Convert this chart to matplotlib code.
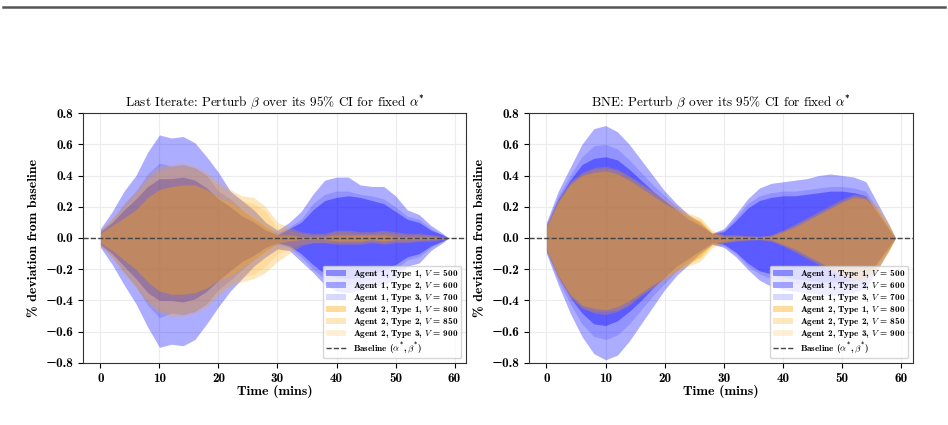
import matplotlib
matplotlib.use("Agg")
import matplotlib.pyplot as plt
from matplotlib.lines import Line2D

plt.rcParams['font.family'] = ['cmb10', 'DejaVu Serif']
plt.rcParams['mathtext.fontset'] = 'custom'
plt.rcParams['mathtext.rm'] = 'cmb10'
plt.rcParams['mathtext.bf'] = 'cmb10'
plt.rcParams['mathtext.it'] = 'cmmi10'
plt.rcParams['axes.formatter.use_mathtext'] = False
plt.rcParams['axes.unicode_minus'] = True

# time grid (mins)
t = [0, 2, 4, 6, 8, 10, 12, 14, 16, 18, 20, 22, 24, 26, 28, 30,
     32, 34, 36, 38, 40, 42, 44, 46, 48, 50, 52, 54, 56, 58, 59]

labels = [r"Agent 1, Type 1, $V$ = 500", r"Agent 1, Type 2, $V$ = 600",
          r"Agent 1, Type 3, $V$ = 700", r"Agent 2, Type 1, $V$ = 800",
          r"Agent 2, Type 2, $V$ = 850", r"Agent 2, Type 3, $V$ = 900"]

# ---- Last iterate: upper / lower bounds of % deviation ----
li_a1t1_hi = [0.04, 0.10, 0.18, 0.25, 0.33, 0.38, 0.38, 0.39, 0.37, 0.32, 0.25, 0.20, 0.14, 0.10, 0.05, 0.02,
              0.06, 0.10, 0.18, 0.24, 0.26, 0.27, 0.26, 0.24, 0.22, 0.17, 0.12, 0.10, 0.05, 0.02, 0.0]
li_a1t1_lo = [-0.04, -0.10, -0.18, -0.26, -0.35, -0.40, -0.40, -0.41, -0.39, -0.34, -0.27, -0.21, -0.15, -0.11, -0.06, -0.03,
              -0.05, -0.10, -0.17, -0.23, -0.25, -0.26, -0.25, -0.23, -0.21, -0.17, -0.12, -0.10, -0.05, -0.02, 0.0]
li_a1t2_hi = [0.06, 0.17, 0.30, 0.40, 0.55, 0.66, 0.64, 0.65, 0.61, 0.52, 0.42, 0.30, 0.24, 0.18, 0.10, 0.05,
              0.10, 0.17, 0.28, 0.37, 0.39, 0.39, 0.34, 0.33, 0.33, 0.27, 0.18, 0.15, 0.08, 0.03, 0.0]
li_a1t2_lo = [-0.06, -0.17, -0.30, -0.42, -0.57, -0.70, -0.68, -0.69, -0.65, -0.55, -0.44, -0.34, -0.26, -0.18, -0.12, -0.07,
              -0.08, -0.15, -0.22, -0.30, -0.34, -0.35, -0.33, -0.31, -0.30, -0.26, -0.18, -0.16, -0.08, -0.03, 0.0]
li_a1t3_hi = [0.05, 0.12, 0.22, 0.30, 0.41, 0.48, 0.46, 0.47, 0.45, 0.40, 0.30, 0.25, 0.18, 0.12, 0.07, 0.03,
              0.07, 0.12, 0.22, 0.28, 0.30, 0.30, 0.28, 0.27, 0.25, 0.20, 0.14, 0.12, 0.06, 0.02, 0.0]
li_a1t3_lo = [-0.05, -0.12, -0.22, -0.31, -0.43, -0.51, -0.48, -0.49, -0.47, -0.42, -0.33, -0.27, -0.20, -0.14, -0.08, -0.04,
              -0.06, -0.12, -0.20, -0.26, -0.29, -0.30, -0.28, -0.27, -0.25, -0.20, -0.14, -0.12, -0.06, -0.02, 0.0]
li_a2t1_hi = [0.03, 0.08, 0.13, 0.18, 0.26, 0.31, 0.33, 0.34, 0.34, 0.31, 0.26, 0.23, 0.18, 0.13, 0.08, 0.02,
              0.02, 0.01, 0.01, 0.01, 0.02, 0.02, 0.02, 0.02, 0.02, 0.01, 0.01, 0.01, 0.01, 0.0, 0.0]
li_a2t1_lo = [-0.03, -0.08, -0.14, -0.20, -0.28, -0.34, -0.36, -0.36, -0.35, -0.32, -0.27, -0.24, -0.19, -0.14, -0.09, -0.03,
              -0.02, -0.01, -0.01, -0.01, -0.02, -0.02, -0.02, -0.01, -0.02, -0.01, -0.01, -0.01, -0.01, 0.0, 0.0]
li_a2t2_hi = [0.05, 0.13, 0.22, 0.30, 0.40, 0.46, 0.47, 0.48, 0.46, 0.42, 0.36, 0.31, 0.27, 0.26, 0.20, 0.10,
              0.07, 0.04, 0.03, 0.03, 0.05, 0.05, 0.04, 0.04, 0.05, 0.04, 0.03, 0.03, 0.02, 0.01, 0.0]
li_a2t2_lo = [-0.05, -0.13, -0.23, -0.32, -0.42, -0.48, -0.50, -0.50, -0.48, -0.44, -0.37, -0.31, -0.28, -0.26, -0.22, -0.15,
              -0.10, -0.05, -0.03, -0.03, -0.04, -0.04, -0.04, -0.03, -0.04, -0.03, -0.03, -0.02, -0.02, -0.01, 0.0]
li_a2t3_hi = [0.05, 0.12, 0.20, 0.28, 0.37, 0.43, 0.45, 0.46, 0.44, 0.40, 0.33, 0.28, 0.24, 0.22, 0.17, 0.06,
              0.05, 0.03, 0.02, 0.02, 0.04, 0.04, 0.03, 0.03, 0.04, 0.03, 0.02, 0.02, 0.02, 0.01, 0.0]
li_a2t3_lo = [-0.05, -0.12, -0.21, -0.30, -0.40, -0.46, -0.48, -0.48, -0.46, -0.42, -0.34, -0.29, -0.25, -0.23, -0.18, -0.10,
              -0.07, -0.04, -0.03, -0.03, -0.03, -0.03, -0.03, -0.02, -0.03, -0.02, -0.02, -0.02, -0.01, -0.01, 0.0]

# ---- BNE: upper / lower bounds of % deviation ----
bne_a1t1_hi = [0.08, 0.25, 0.37, 0.47, 0.51, 0.52, 0.50, 0.44, 0.37, 0.30, 0.24, 0.18, 0.12, 0.08, 0.03, 0.04,
               0.11, 0.19, 0.24, 0.26, 0.27, 0.27, 0.28, 0.29, 0.30, 0.30, 0.29, 0.27, 0.16, 0.05, 0.0]
bne_a1t1_lo = [-0.08, -0.25, -0.38, -0.48, -0.55, -0.56, -0.53, -0.47, -0.40, -0.32, -0.25, -0.18, -0.13, -0.08, -0.03, -0.04,
               -0.09, -0.16, -0.21, -0.23, -0.25, -0.26, -0.27, -0.28, -0.28, -0.28, -0.27, -0.25, -0.15, -0.05, 0.0]
bne_a1t2_hi = [0.10, 0.30, 0.45, 0.60, 0.70, 0.72, 0.68, 0.60, 0.50, 0.40, 0.30, 0.22, 0.15, 0.10, 0.03, 0.06,
               0.15, 0.25, 0.32, 0.35, 0.36, 0.37, 0.38, 0.40, 0.41, 0.40, 0.39, 0.36, 0.22, 0.08, 0.0]
bne_a1t2_lo = [-0.10, -0.30, -0.48, -0.63, -0.74, -0.78, -0.75, -0.66, -0.55, -0.44, -0.33, -0.24, -0.17, -0.10, -0.04, -0.06,
               -0.12, -0.20, -0.27, -0.31, -0.33, -0.34, -0.35, -0.36, -0.37, -0.36, -0.35, -0.32, -0.20, -0.07, 0.0]
bne_a1t3_hi = [0.09, 0.27, 0.40, 0.52, 0.59, 0.60, 0.57, 0.50, 0.42, 0.34, 0.27, 0.20, 0.14, 0.09, 0.03, 0.05,
               0.13, 0.22, 0.27, 0.29, 0.30, 0.30, 0.31, 0.32, 0.33, 0.33, 0.32, 0.30, 0.18, 0.06, 0.0]
bne_a1t3_lo = [-0.09, -0.27, -0.42, -0.55, -0.63, -0.65, -0.62, -0.55, -0.46, -0.37, -0.29, -0.21, -0.15, -0.09, -0.04, -0.05,
               -0.10, -0.18, -0.23, -0.26, -0.28, -0.29, -0.30, -0.31, -0.31, -0.30, -0.30, -0.27, -0.17, -0.06, 0.0]
bne_a2t1_hi = [0.07, 0.23, 0.34, 0.40, 0.42, 0.43, 0.41, 0.37, 0.32, 0.27, 0.22, 0.18, 0.14, 0.11, 0.03, 0.01,
               0.01, 0.01, 0.01, 0.01, 0.04, 0.07, 0.11, 0.15, 0.19, 0.23, 0.26, 0.25, 0.18, 0.07, 0.0]
bne_a2t1_lo = [-0.07, -0.24, -0.36, -0.43, -0.45, -0.46, -0.44, -0.40, -0.35, -0.30, -0.25, -0.20, -0.16, -0.12, -0.04, -0.02,
               -0.01, -0.01, -0.01, -0.01, -0.04, -0.07, -0.11, -0.15, -0.19, -0.23, -0.26, -0.25, -0.18, -0.07, 0.0]
bne_a2t2_hi = [0.08, 0.25, 0.36, 0.42, 0.45, 0.46, 0.44, 0.40, 0.35, 0.30, 0.25, 0.20, 0.16, 0.13, 0.05, 0.02,
               0.02, 0.015, 0.01, 0.02, 0.05, 0.09, 0.13, 0.17, 0.21, 0.25, 0.28, 0.27, 0.20, 0.08, 0.0]
bne_a2t2_lo = [-0.08, -0.26, -0.38, -0.45, -0.48, -0.49, -0.47, -0.43, -0.37, -0.32, -0.27, -0.22, -0.18, -0.15, -0.06, -0.03,
               -0.02, -0.015, -0.01, -0.02, -0.05, -0.09, -0.13, -0.17, -0.21, -0.25, -0.28, -0.27, -0.20, -0.08, 0.0]
bne_a2t3_hi = [0.08, 0.24, 0.35, 0.41, 0.44, 0.45, 0.43, 0.39, 0.34, 0.29, 0.24, 0.19, 0.15, 0.12, 0.04, 0.02,
               0.02, 0.01, 0.01, 0.02, 0.05, 0.08, 0.12, 0.16, 0.20, 0.24, 0.27, 0.26, 0.19, 0.07, 0.0]
bne_a2t3_lo = [-0.08, -0.25, -0.37, -0.44, -0.47, -0.47, -0.46, -0.42, -0.36, -0.31, -0.26, -0.21, -0.17, -0.13, -0.05, -0.03,
               -0.02, -0.01, -0.01, -0.02, -0.05, -0.08, -0.12, -0.16, -0.20, -0.24, -0.27, -0.26, -0.19, -0.07, 0.0]

last_iter = [(li_a1t1_lo, li_a1t1_hi), (li_a1t2_lo, li_a1t2_hi), (li_a1t3_lo, li_a1t3_hi),
             (li_a2t1_lo, li_a2t1_hi), (li_a2t2_lo, li_a2t2_hi), (li_a2t3_lo, li_a2t3_hi)]
bne = [(bne_a1t1_lo, bne_a1t1_hi), (bne_a1t2_lo, bne_a1t2_hi), (bne_a1t3_lo, bne_a1t3_hi),
       (bne_a2t1_lo, bne_a2t1_hi), (bne_a2t2_lo, bne_a2t2_hi), (bne_a2t3_lo, bne_a2t3_hi)]

colors = ['blue', 'blue', 'blue', 'orange', 'orange', 'orange']
alphas = [0.38, 0.32, 0.15, 0.38, 0.26, 0.16]

titles = [r"Last Iterate: Perturb $\beta$ over its 95% CI for fixed $\alpha^{*}$",
          r"BNE: Perturb $\beta$ over its 95% CI for fixed $\alpha^{*}$"]

fig = plt.figure(figsize=(9.48, 4.25), dpi=100)
ax1 = fig.add_axes([0.0876, 0.146, 0.404, 0.588])
ax2 = fig.add_axes([0.558, 0.146, 0.405, 0.588])

for ax, data, title in zip([ax1, ax2], [last_iter, bne], titles):
    for (lo, hi), c, a, lab in zip(data, colors, alphas, labels):
        ax.fill_between(t, lo, hi, color=c, alpha=a, linewidth=0, label=lab)
    ax.axhline(0, color='#444444', linestyle='--', linewidth=1, label=r"Baseline $(\alpha^{*}, \beta^{*})$")
    ax.set_ylim(-0.8, 0.8)
    ax.set_xticks([0, 10, 20, 30, 40, 50, 60])
    ax.set_yticks([-0.8, -0.6, -0.4, -0.2, 0.0, 0.2, 0.4, 0.6, 0.8])
    ax.grid(True, color='#ececec', linewidth=0.8)
    ax.set_axisbelow(True)
    ax.tick_params(labelsize=9.5)
    for s in ax.spines.values():
        s.set_color('#333333')
    ax.set_title(title, fontsize=9.5, fontfamily=['cmr10', 'DejaVu Serif'], pad=5)
    ax.set_xlabel("Time (mins)", fontsize=10, labelpad=0)
    ax.set_ylabel("% deviation from baseline", fontsize=10)
    ax.legend(loc='lower right', fontsize=6.6, framealpha=0.8, handlelength=2.2,
              handleheight=0.5, labelspacing=0.0, borderpad=0.3)

fig.add_artist(Line2D([0.003, 0.997], [0.984, 0.984], color='#555555', linewidth=1.8))

fig.savefig("out.png", dpi=100)
